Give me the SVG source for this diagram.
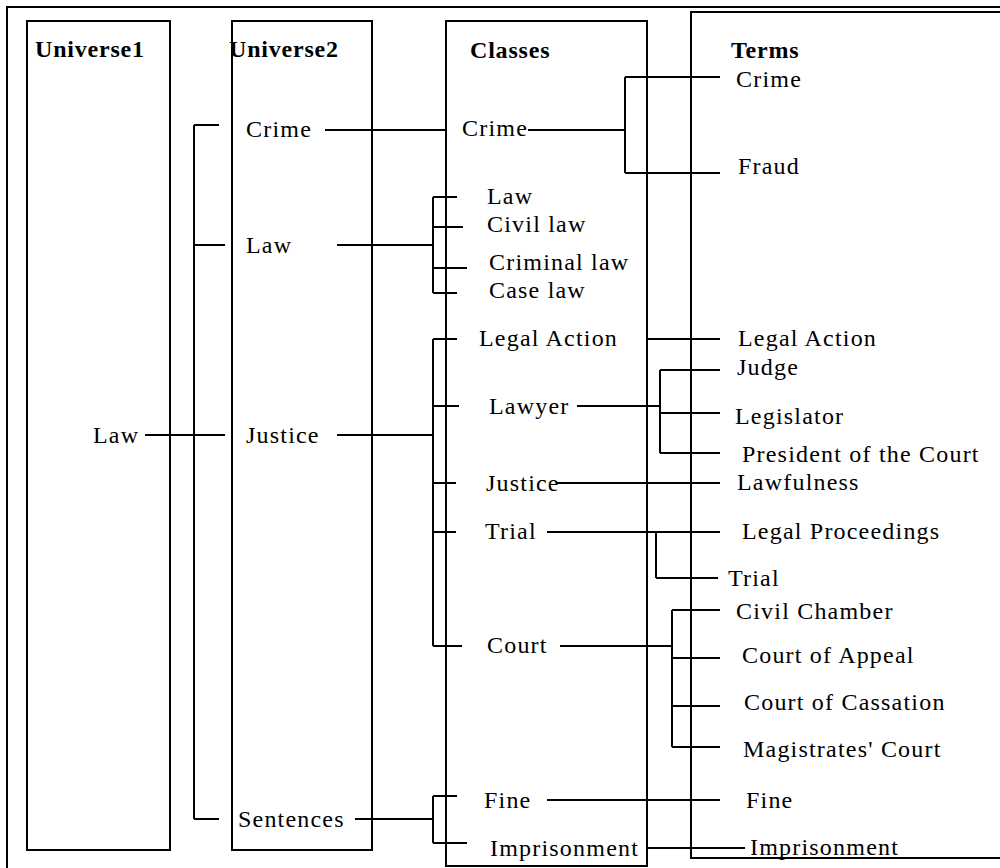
<svg xmlns="http://www.w3.org/2000/svg" width="1000" height="868" viewBox="0 0 1000 868">
<style>
.box{fill:none;stroke:#000;stroke-width:2}
text{font-family:'Liberation Serif','DejaVu Serif',serif;fill:#000}
.t{font-size:24px;letter-spacing:1.2px}
.h{font-size:24px;font-weight:bold;letter-spacing:0.8px}
#connectors line{stroke:#000;stroke-width:2;fill:none}
</style>
<rect x="0" y="0" width="1000" height="868" fill="#fff"/>
<g id="frame"><rect class="box" x="7" y="7" width="1010" height="880"/></g>
<g id="universe1"><rect class="box" x="27" y="21" width="143" height="829"/><text class="h" x="35" y="57" font-family="Liberation Serif, DejaVu Serif, serif">Universe1</text></g>
<g id="universe2"><rect class="box" x="232" y="21" width="140" height="829"/><text class="h" x="229" y="57">Universe2</text></g>
<g id="classes"><rect class="box" x="446" y="21" width="201" height="845"/><text class="h" x="470" y="58">Classes</text></g>
<g id="terms"><rect class="box" x="691" y="12" width="330" height="846"/><text class="h" x="731" y="58">Terms</text></g>

<g id="u1-law"><text class="t" x="93" y="443">Law</text></g>
<g id="u2-crime"><text class="t" x="246" y="137">Crime</text></g>
<g id="u2-law"><text class="t" x="246" y="253">Law</text></g>
<g id="u2-justice"><text class="t" x="246" y="443">Justice</text></g>
<g id="u2-sentences"><text class="t" x="238" y="827">Sentences</text></g>

<g id="c-crime"><text class="t" x="462" y="136">Crime</text></g>
<g id="c-law"><text class="t" x="487" y="204">Law</text></g>
<g id="c-civil-law"><text class="t" x="487" y="232">Civil law</text></g>
<g id="c-criminal-law"><text class="t" x="489" y="270">Criminal law</text></g>
<g id="c-case-law"><text class="t" x="489" y="298">Case law</text></g>
<g id="c-legal-action"><text class="t" x="479" y="346">Legal Action</text></g>
<g id="c-lawyer"><text class="t" x="489" y="414">Lawyer</text></g>
<g id="c-justice"><text class="t" x="486" y="491">Justice</text></g>
<g id="c-trial"><text class="t" x="485" y="539">Trial</text></g>
<g id="c-court"><text class="t" x="487" y="653">Court</text></g>
<g id="c-fine"><text class="t" x="484" y="808">Fine</text></g>
<g id="c-imprisonment"><text class="t" x="490" y="856">Imprisonment</text></g>

<g id="t-crime"><text class="t" x="736" y="87">Crime</text></g>
<g id="t-fraud"><text class="t" x="738" y="174">Fraud</text></g>
<g id="t-legal-action"><text class="t" x="738" y="346">Legal Action</text></g>
<g id="t-judge"><text class="t" x="737" y="375">Judge</text></g>
<g id="t-legislator"><text class="t" x="735" y="424">Legislator</text></g>
<g id="t-president"><text class="t" x="742" y="462">President of the Court</text></g>
<g id="t-lawfulness"><text class="t" x="737" y="490">Lawfulness</text></g>
<g id="t-legal-proceedings"><text class="t" x="742" y="539">Legal Proceedings</text></g>
<g id="t-trial"><text class="t" x="728" y="586">Trial</text></g>
<g id="t-civil-chamber"><text class="t" x="736" y="619">Civil Chamber</text></g>
<g id="t-court-of-appeal"><text class="t" x="742" y="663">Court of Appeal</text></g>
<g id="t-court-of-cassation"><text class="t" x="744" y="710">Court of Cassation</text></g>
<g id="t-magistrates-court"><text class="t" x="743" y="757">Magistrates' Court</text></g>
<g id="t-fine"><text class="t" x="746" y="808">Fine</text></g>
<g id="t-imprisonment"><text class="t" x="750" y="855">Imprisonment</text></g>

<g id="connectors">
<line x1="194" y1="125" x2="194" y2="819"/>
<line x1="194" y1="125" x2="219" y2="125"/>
<line x1="194" y1="245" x2="225" y2="245"/>
<line x1="145" y1="435" x2="225" y2="435"/>
<line x1="194" y1="819" x2="219" y2="819"/>
<line x1="325" y1="130" x2="446" y2="130"/>
<line x1="337" y1="245" x2="433" y2="245"/>
<line x1="337" y1="435" x2="433" y2="435"/>
<line x1="355" y1="819" x2="433" y2="819"/>
<line x1="433" y1="197" x2="433" y2="293"/>
<line x1="433" y1="197" x2="457" y2="197"/>
<line x1="433" y1="227" x2="463" y2="227"/>
<line x1="433" y1="268" x2="467" y2="268"/>
<line x1="433" y1="293" x2="457" y2="293"/>
<line x1="433" y1="339" x2="433" y2="646"/>
<line x1="433" y1="339" x2="457" y2="339"/>
<line x1="433" y1="406" x2="459" y2="406"/>
<line x1="433" y1="483" x2="456" y2="483"/>
<line x1="433" y1="532" x2="456" y2="532"/>
<line x1="433" y1="646" x2="462" y2="646"/>
<line x1="433" y1="796" x2="433" y2="843"/>
<line x1="433" y1="796" x2="457" y2="796"/>
<line x1="433" y1="843" x2="467" y2="843"/>
<line x1="528" y1="130" x2="625" y2="130"/>
<line x1="625" y1="77" x2="625" y2="173"/>
<line x1="625" y1="77" x2="720" y2="77"/>
<line x1="625" y1="173" x2="720" y2="173"/>
<line x1="647" y1="339" x2="720" y2="339"/>
<line x1="577" y1="406" x2="660" y2="406"/>
<line x1="660" y1="370" x2="660" y2="453"/>
<line x1="660" y1="370" x2="720" y2="370"/>
<line x1="660" y1="413" x2="720" y2="413"/>
<line x1="660" y1="453" x2="720" y2="453"/>
<line x1="556" y1="483" x2="720" y2="483"/>
<line x1="547" y1="532" x2="720" y2="532"/>
<line x1="656" y1="532" x2="656" y2="578"/>
<line x1="656" y1="578" x2="718" y2="578"/>
<line x1="560" y1="646" x2="672" y2="646"/>
<line x1="672" y1="610" x2="672" y2="747"/>
<line x1="672" y1="610" x2="720" y2="610"/>
<line x1="672" y1="658" x2="720" y2="658"/>
<line x1="672" y1="706" x2="720" y2="706"/>
<line x1="672" y1="747" x2="720" y2="747"/>
<line x1="547" y1="800" x2="720" y2="800"/>
<line x1="647" y1="848" x2="745" y2="848"/>
</g>
</svg>
